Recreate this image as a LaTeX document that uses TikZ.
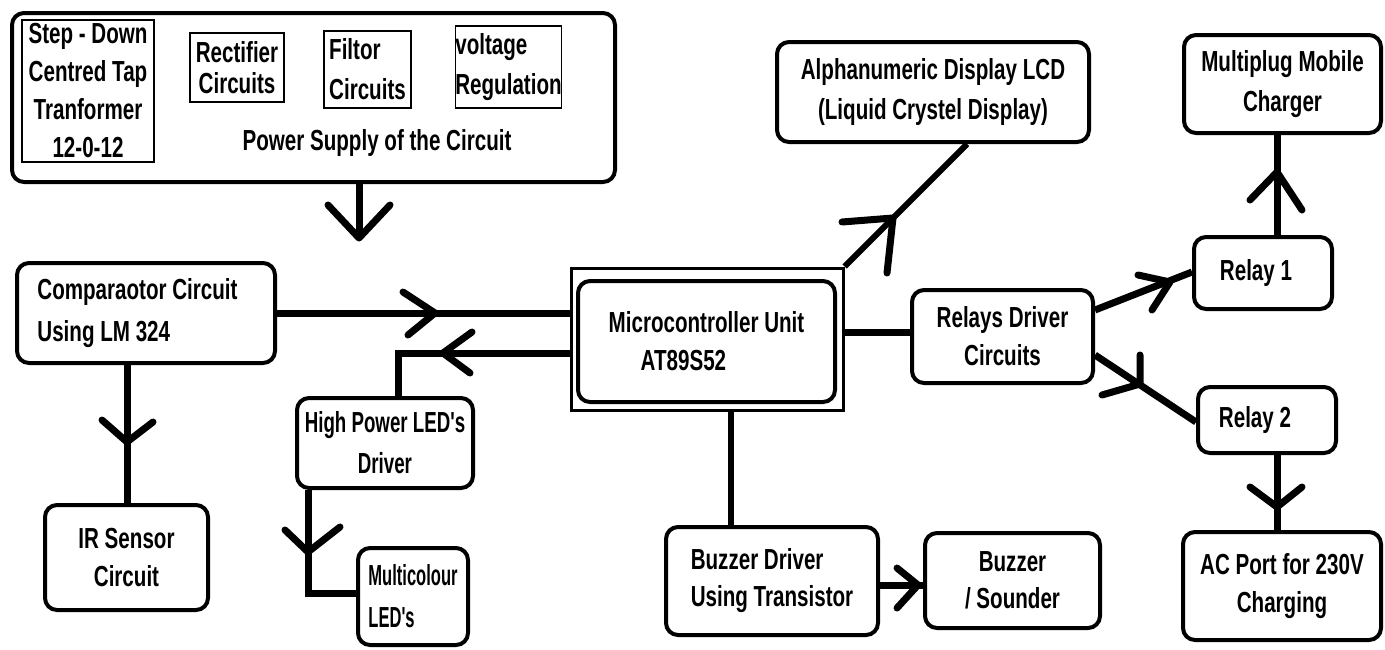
\documentclass[tikz,border=0pt]{standalone}
\usepackage{fontspec}
\setmainfont{Liberation Sans}[FakeStretch=0.71]
\newfontfamily\narrowA{Liberation Sans}[FakeStretch=0.645]
\newfontfamily\narrowB{Liberation Sans}[FakeStretch=0.57]
\newcommand\lbl{\fontsize{29}{38}\selectfont\bfseries}
\newcommand\lbltight{\fontsize{29}{31}\selectfont\bfseries}
\tikzset{
  box/.style={draw, line width=4pt, rounded corners=12pt, inner sep=0pt, align=center, font=\lbl},
  subbox/.style={draw, line width=1.5pt, inner sep=0pt, font=\lbl},
  conn/.style={line width=7pt},
  arm/.style={line width=7pt, line cap=round, line join=round},
}
\begin{document}
\begin{tikzpicture}[x=1pt,y=-1pt]
\useasboundingbox (0,0) rectangle (1385,649);
% power supply
\node[box, minimum width=603pt, minimum height=169pt] (ps) at (313.5,97.5) {};
\node[font=\lbl, inner sep=0pt] (pst) at (377,143) {Power Supply of the Circuit};
\node[subbox, align=center, minimum width=132pt, minimum height=142pt] (sd) at (88,91) {Step - Down\\Centred Tap\\Tranformer\\12-0-12};
\node[subbox, align=center, font=\lbltight, minimum width=94pt, minimum height=69pt] (rect) at (237,67.5) {Rectifier\\Circuits};
\node[subbox, align=left, font={\fontsize{29}{40}\selectfont\bfseries}, minimum width=87pt, minimum height=77pt] (filt) at (367.5,69.5) {Filtor\\Circuits};
\node[subbox, align=left, font={\fontsize{29}{40}\selectfont\bfseries}, minimum width=105pt, minimum height=82pt] (volt) at (508.5,67) {voltage\\Regulation};
% left side
\node[box, align=left, minimum width=258pt, minimum height=100pt, font={\fontsize{29}{42}\selectfont\bfseries}] (comp) at (146,313) {Comparaotor Circuit\hspace*{17pt}\\Using LM 324};
\node[box, minimum width=163pt, minimum height=105pt] (ir) at (126.5,557.5) {IR Sensor\\Circuit};
\node[box, minimum width=176pt, minimum height=90pt, font={\fontsize{29}{41}\selectfont\bfseries\narrowA}] (hpl) at (385,443) {High Power LED's\\Driver};
\node[box, align=left, minimum width=110pt, minimum height=97pt, font={\fontsize{29}{42}\selectfont\bfseries\narrowB}] (mcl) at (413,596.5) {Multicolour\\LED's};
% MCU
\node[draw, line width=3pt, minimum width=272pt, minimum height=142pt, inner sep=0pt] (mcuo) at (707,339) {};
\node[box, align=left, minimum width=257pt, minimum height=121pt] (mcu) at (706.5,341.5) {Microcontroller Unit\\\hspace*{32pt}AT89S52};
% right side
\node[box, minimum width=312pt, minimum height=100pt, font={\fontsize{29}{40}\selectfont\bfseries}] (lcd) at (933,92) {Alphanumeric Display LCD\\(Liquid Crystel Display)};
\node[box, minimum width=197pt, minimum height=98pt, font={\fontsize{29}{40}\selectfont\bfseries}] (mpl) at (1282.5,84) {Multiplug Mobile\\Charger};
\node[box, minimum width=138pt, minimum height=72pt] (r1) at (1263,273) {Relay 1\hspace*{14pt}};
\node[box, minimum width=181pt, minimum height=93pt] (rd) at (1002.5,336.5) {Relays Driver\\Circuits};
\node[box, minimum width=138pt, minimum height=66pt] (r2) at (1267,420) {Relay 2\hspace*{24pt}};
\node[box, minimum width=198pt, minimum height=108pt] (ac) at (1282,586) {AC Port for 230V\\Charging};
\node[box, align=left, minimum width=212pt, minimum height=108pt, font={\fontsize{29}{37}\selectfont\bfseries}] (bd) at (772,581) {Buzzer Driver\\Using Transistor};
\node[box, minimum width=175pt, minimum height=95pt, font={\fontsize{29}{37}\selectfont\bfseries}] (bz) at (1012.5,580.5) {Buzzer\\/ Sounder};
% helper coordinates
\coordinate (psend) at (359,238);
\coordinate (cy) at (0,313);
\coordinate (hx) at (398,353);
\coordinate (irx) at (127,0);
\coordinate (mcx) at (308,593);
\coordinate (lcdx) at (967,0);
\coordinate (rdy) at (0,332);
\coordinate (r1a) at (0,310);
\coordinate (r1b) at (0,272);
\coordinate (r2a) at (0,355);
\coordinate (r2b) at (0,422);
\coordinate (rx) at (1277,0);
\coordinate (bdx) at (731,0);
\coordinate (bzy) at (0,585);
% connectors
\draw[conn] (ps.south -| psend) -- (psend);
\draw[arm] (328,205) -- (psend) -- (390,205);

\draw[conn] (comp.east |- cy) -- (mcuo.west |- cy);
\draw[arm] (403,292) -- (435,313) -- (408,335);

\draw[conn] (hpl.north -| hx) |- (mcuo.west |- hx);
\draw[arm] (472,332) -- (443,353) -- (470,373);

\draw[conn] (comp.south -| irx) -- (ir.north -| irx);
\draw[arm] (102,420) -- (127,442) -- (153,422);

\draw[conn] (hpl.south -| mcx) |- (mcl.west |- mcx);
\draw[arm] (285,530) -- (308,552) -- (340,527);

\draw[line width=6pt] (mcuo.north east) -- (lcd.south -| lcdx);
\draw[arm] (842,222) -- (893,218) -- (887,273);

\draw[conn] (mcuo.east |- rdy) -- (rd.west |- rdy);

\draw[conn] (rd.east |- r1a) -- (r1.west |- r1b);
\draw[arm] (1138,275) -- (1170,282) -- (1152,310);

\draw[conn] (rd.east |- r2a) -- (r2.west |- r2b);
\draw[arm] (1140,355) -- (1140,384) -- (1102,395);

\draw[conn] (r1.north -| rx) -- (mpl.south -| rx);
\draw[arm] (1250,200) -- (1277,172) -- (1302,210);

\draw[conn] (r2.south -| rx) -- (ac.north -| rx);
\draw[arm] (1250,487) -- (1277,507) -- (1302,487);

\draw[line width=6pt] (mcuo.south -| bdx) -- (bd.north -| bdx);

\draw[conn] (bd.east |- bzy) -- (bz.west |- bzy);
\draw[arm] (897,568) -- (918,585) -- (897,608);
\end{tikzpicture}
\end{document}
